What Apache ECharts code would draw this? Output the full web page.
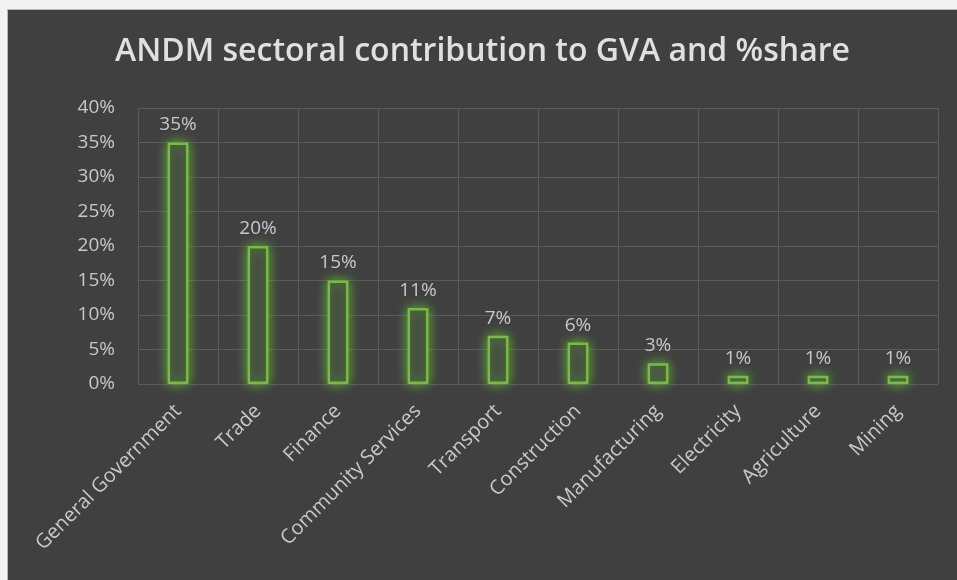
<!DOCTYPE html>
<html>
<head>
<meta charset="utf-8">
<script src="https://cdn.jsdelivr.net/npm/echarts@6/dist/echarts.min.js"></script>
<style>
html,body{margin:0;padding:0;background:#f2f2f2;width:957px;height:580px;overflow:hidden;}
#frame{position:absolute;left:7px;top:9px;width:950px;height:571px;border-left:1px solid #b8b8b8;border-top:1px solid #b8b8b8;background:#404040;}
#chart{width:949px;height:570px;}
</style>
</head>
<body>
<div id="frame"><div id="chart"></div></div>
<script>
var titleText = 'ANDM sectoral contribution to GVA and %share';
var categories = ['General Government','Trade','Finance','Community Services','Transport','Construction','Manufacturing','Electricity','Agriculture','Mining'];
var shares = [35, 20, 15, 11, 7, 6, 3, 1.2, 1.2, 1.2];
var yTicks = [0, 5, 10, 15, 20, 25, 30, 35, 40];

var chart = echarts.init(document.getElementById('chart'), null, {renderer:'canvas'});
var txt = '#c8c8c8';
chart.setOption({
  backgroundColor: '#404040',
  animation: false,
  title: {
    text: titleText,
    left: 'center',
    top: 21,
    textStyle: {color: '#e0e0e0', fontFamily: 'Open Sans', fontWeight: 600, fontSize: 32}
  },
  grid: {left: 130, right: 19, top: 98, bottom: 196, containLabel: false},
  xAxis: {
    type: 'category',
    data: categories,
    axisLine: {show: false},
    axisTick: {show: false},
    splitLine: {show: true, lineStyle: {color: '#5a5a5a', width: 1}},
    axisLabel: {color: txt, fontFamily: 'Open Sans', fontSize: 20, rotate: 45, margin: 24, interval: 0}
  },
  yAxis: {
    type: 'value',
    min: yTicks[0],
    max: yTicks[yTicks.length - 1],
    interval: 5,
    axisLine: {show: false},
    axisTick: {show: false},
    splitLine: {lineStyle: {color: '#5a5a5a', width: 1}},
    axisLabel: {color: txt, fontFamily: 'Open Sans', fontSize: 19, margin: 23, formatter: function(v){return v + '%';}}
  },
  series: [{
    type: 'bar',
    data: shares,
    barWidth: '26%',
    itemStyle: {
      color: '#434741',
      borderColor: '#74bd42',
      borderWidth: 2.5,
      shadowBlur: 12,
      shadowColor: 'rgba(110,190,60,0.9)'
    },
    label: {
      show: true,
      position: 'top',
      distance: 8,
      color: txt,
      fontFamily: 'Open Sans',
      fontSize: 19,
      formatter: function(p){return Math.round(p.value) + '%';}
    }
  }]
});
</script>
</body>
</html>
